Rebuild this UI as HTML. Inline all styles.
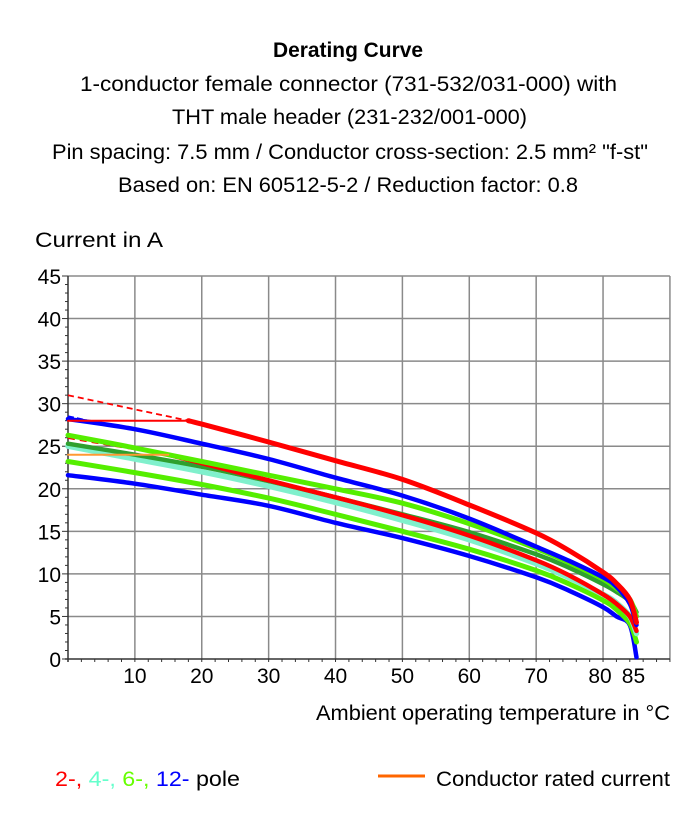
<!DOCTYPE html>
<html><head><meta charset="utf-8"><style>
html,body{margin:0;padding:0;background:#fff}
svg{display:block}
text{font-family:"Liberation Sans Narrow","Liberation Sans",sans-serif;fill:#000}
</style></head><body>
<svg id="chart" width="700" height="821" viewBox="0 0 700 821">
<g text-anchor="start">
<text x="273" y="57" font-size="21" font-weight="bold" textLength="150" lengthAdjust="spacingAndGlyphs">Derating Curve</text>
<text x="80" y="91" font-size="21" textLength="537" lengthAdjust="spacingAndGlyphs">1-conductor female connector (731-532/031-000) with</text>
<text x="172" y="124" font-size="21" textLength="355" lengthAdjust="spacingAndGlyphs">THT male header (231-232/001-000)</text>
<text x="52" y="159" font-size="21" textLength="596" lengthAdjust="spacingAndGlyphs">Pin spacing: 7.5 mm / Conductor cross-section: 2.5 mm² "f-st"</text>
<text x="118" y="192" font-size="21" textLength="460" lengthAdjust="spacingAndGlyphs">Based on: EN 60512-5-2 / Reduction factor: 0.8</text>
</g>
<text x="35" y="247" font-size="21" textLength="128" lengthAdjust="spacingAndGlyphs">Current in A</text>
<text x="316" y="720" font-size="21" textLength="354" lengthAdjust="spacingAndGlyphs">Ambient operating temperature in °C</text>
<g id="grid"></g>
<g id="axes"></g>
<g id="series"></g>
<g>
<text x="55" y="786" font-size="21" textLength="185" lengthAdjust="spacingAndGlyphs"><tspan style="fill:#ff0000">2-, </tspan><tspan style="fill:#66ffcc">4-, </tspan><tspan style="fill:#66ff00">6-, </tspan><tspan style="fill:#0000ff">12-</tspan><tspan> pole</tspan></text>
<line x1="378" y1="776" x2="425" y2="776" stroke="#ff6600" stroke-width="3"/>
<text x="436" y="786" font-size="21" textLength="234" lengthAdjust="spacingAndGlyphs">Conductor rated current</text>
</g>
</svg>
<script>
const xTicks = [10,20,30,40,50,60,70,80,85];
const yTicks = [0,5,10,15,20,25,30,35,40,45];
const temps = [0,10,20,30,40,50,60,70,75,80,82,84,85];
const redHighTemps = [18,20,30,40,50,60,70,75,80,82,84,85];
const red2High = [28,27.6,25.5,23.3,21.1,18.1,14.8,12.7,10.2,8.9,7,4.3];
const blue12High = [28.2,27,25.3,23.5,21.3,19.2,16.5,13.2,11.5,9.6,8.5,6.5,4];
const green6High = [26.3,24.8,23.2,21.6,20,18.3,15.9,13,11.3,9.4,8.3,7,5];
const darkGreen = [25.3,24,22.6,20.9,19,17,14.9,12.3,10.7,8.8,7.9,6.8,5.5];
const cyan4 = [25,23.5,22,20.3,18.4,16.3,14,11.2,9.5,7.6,6.6,5,3];
const redLowTemps = [15,20,30,40,50,60,70,75,80,82,84,85];
const red2Low = [24,23,21,19,16.9,14.5,11.6,9.8,7.6,6.5,5,3.3];
const green6Low = [23.2,21.9,20.5,18.9,17,15,12.9,10.4,8.8,6.9,5.8,4.2,2];
const blue12Low = [21.6,20.6,19.3,18,16,14.2,12.1,9.6,8,6.1,5,4,0.2];
const ratedTemps = [0,15];
const ratedCurrent = [24,24];
const redDashT = [0,18]; const redDashV = [31,28];
const redFlatT = [0,18]; const redFlatV = [28,28];
const redLowDashT = [0,15]; const redLowDashV = [26,24];
const blueDashT = [0,3]; const blueDashV = [28.5,28];

const X0=68, PXX=6.688, Y0=659, PXY=8.511;
const sx=t=>X0+t*PXX, sy=v=>Y0-v*PXY;
const NS='http://www.w3.org/2000/svg';
function mk(tag,parent,attrs){const e=document.createElementNS(NS,tag);for(const k in attrs)e.setAttribute(k,attrs[k]);parent.appendChild(e);return e;}
const grid=document.getElementById('grid'), axes=document.getElementById('axes'), ser=document.getElementById('series');
[10,20,30,40,50,60,70,80,90].forEach(t=>{const l=mk('line',grid,{x1:sx(t),x2:sx(t),y1:sy(0),y2:sy(45),stroke:'#8a8a8a','stroke-width':1.5});

});
yTicks.slice(1).forEach(v=>{const l=mk('line',grid,{x1:sx(0),x2:sx(90),y1:sy(v),y2:sy(v),stroke:'#8a8a8a','stroke-width':1.5});

});
mk('line',axes,{x1:sx(0),x2:sx(0),y1:sy(0)+3,y2:sy(45),stroke:'#333','stroke-width':1.5});
mk('line',axes,{x1:sx(0)-3,x2:sx(90),y1:sy(0),y2:sy(0),stroke:'#333','stroke-width':1.5});
for(let v=0;v<=45;v++){mk('line',axes,{x1:sx(0)-(v%5?3:6),x2:sx(0),y1:sy(v),y2:sy(v),stroke:'#333','stroke-width':1});}
for(let t=0;t<=90;t+=2){mk('line',axes,{x1:sx(t),x2:sx(t),y1:sy(0),y2:sy(0)+3,stroke:'#333','stroke-width':1});}
yTicks.forEach(v=>{const e=mk('text',axes,{x:61,y:sy(v)+8,'font-size':21,'text-anchor':'end'});e.textContent=v;

});
xTicks.forEach(t=>{const e=mk('text',axes,{x:sx(t)-(t>=80?3:0),y:683,'font-size':21,'text-anchor':'middle'});e.textContent=t;

});
function smoothPath(pts){
  if(pts.length<3) return 'M'+pts.map(p=>p[0].toFixed(1)+','+p[1].toFixed(1)).join(' L');
  let d='M'+pts[0][0].toFixed(1)+','+pts[0][1].toFixed(1);
  for(let i=0;i<pts.length-1;i++){
    const p0=pts[i-1]||pts[i],p1=pts[i],p2=pts[i+1],p3=pts[i+2]||p2;
    const c1=[p1[0]+(p2[0]-p0[0])/6,p1[1]+(p2[1]-p0[1])/6];
    const c2=[p2[0]-(p3[0]-p1[0])/6,p2[1]-(p3[1]-p1[1])/6];
    d+=' C'+c1[0].toFixed(1)+','+c1[1].toFixed(1)+' '+c2[0].toFixed(1)+','+c2[1].toFixed(1)+' '+p2[0].toFixed(1)+','+p2[1].toFixed(1);
  }
  return d;
}
function line(ts,vs,color,w,name,dash){
  const pts=ts.map((t,i)=>[sx(t),sy(vs[i])]);
  const a={d:smoothPath(pts),fill:'none',stroke:color,'stroke-width':w,'stroke-linejoin':'round','stroke-linecap':'round'};
  if(dash){a['stroke-dasharray']=dash;a['stroke-linecap']='butt';}
  const e=mk('path',ser,a);
  
  
}
line(redDashT,redDashV,'#ff0000',1.8,'red-2pole-dashed-extension','6,4');
line(redLowDashT,redLowDashV,'#ff0000',2.5,'red-2pole-low-dashed-extension','7,5');
line(blueDashT,blueDashV,'#0000ff',2,'blue-12pole-dashed-extension','6,3');
line(temps,blue12Low,'#0000ff',4.5,'blue-12pole-low-line');
line(temps,green6Low,'#55ee00',5,'green-6pole-low-line');
line(temps,cyan4,'#80f0cc',5.5,'cyan-4pole-line');
line(temps,darkGreen,'#2ea02e',4.5,'darkgreen-line');
line(redLowTemps,red2Low,'#ff0000',4.5,'red-2pole-low-line');
line(temps,green6High,'#55ee00',5,'green-6pole-high-line');
line(temps,blue12High,'#0000ff',4.5,'blue-12pole-high-line');
line(redFlatT,redFlatV,'#ff0000',2,'red-2pole-flat-line');
line(redHighTemps,red2High,'#ff0000',5,'red-2pole-high-line');
line(ratedTemps,ratedCurrent,'#ff9933',2,'rated-current-line');
</script>
</body></html>
